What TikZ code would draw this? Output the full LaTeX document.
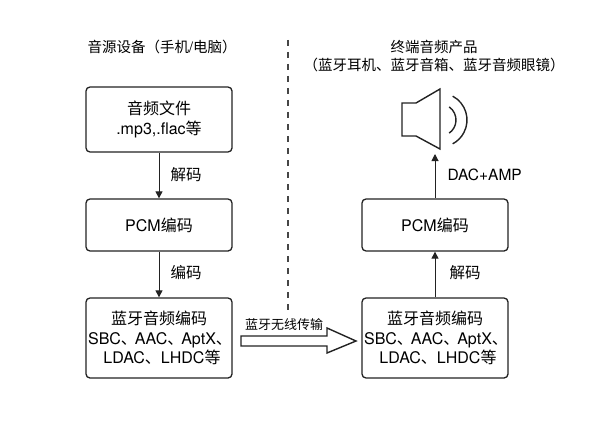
\documentclass[tikz,border=0pt]{standalone}
\usepackage{fontspec}
\setmainfont{TeX Gyre Heros}
\newfontfamily\cjk{Noto Sans CJK SC}
\usetikzlibrary{arrows.meta}
\newcommand{\zh}[1]{{\cjk #1}}
\newcommand{\dun}{\zh{、}\kern-2pt}
\definecolor{Line}{RGB}{34,34,34}
\definecolor{Rule}{RGB}{70,70,70}
\tikzstyle{Box}=[draw=Line,rounded corners=4pt,line width=1.3pt,
minimum width=146pt,inner sep=0pt,align=center,
font=\fontsize{16}{19.5}\selectfont]
\tikzstyle{Edge}=[draw=Line,line width=1pt,-{Triangle[length=7pt,width=7pt]}]
\tikzstyle{Label}=[anchor=west,font=\fontsize{15.5}{18}\selectfont]
\tikzstyle{Title}=[align=center,font=\fontsize{14.5}{18}\selectfont]
\tikzstyle{Hollow}=[draw=Line,line width=1.4pt,line join=miter]
\tikzstyle{Divider}=[draw=Rule,line width=1.2pt,dash pattern=on 6pt off 6pt]

\begin{document}
\begin{tikzpicture}[x=1pt,y=-1pt]
        \useasboundingbox(0,0)rectangle(607,425);
        \node[Title,anchor=west](srcT)at(84,47)
            {\zh{音源设备（手机}/\zh{电脑）}};
        \node[Title](sinkT)at(434,56)
            {\zh{终端音频产品}\\\zh{（蓝牙耳机、蓝牙音箱、蓝牙音频眼镜）}};
        \draw[Divider](288,40)--(288,310);
        % source side
        \node[Box,minimum height=65pt](file)at(159,119.5)
            {\zh{音频文件}\\.mp3,.flac\zh{等}};
        \node[Box,minimum height=52pt](pcm1)at(159,225){PCM\zh{编码}};
        \node[Box,minimum height=80pt](bt1)at(159,338)
            {\zh{蓝牙音频编码}\\SBC\dun AAC\dun AptX\dun\\\hspace*{6pt}LDAC\zh{、}LHDC\zh{等}};
        \draw[Edge](file)--(pcm1);
        \draw[Edge](pcm1)--(bt1);
        \node[Label](dec1)at(167,175){\zh{解码}};
        \node[Label](enc1)at(167,273){\zh{编码}};
        % sink side
        \node[Box,minimum height=52pt](pcm2)at(435,225){PCM\zh{编码}};
        \node[Box,minimum height=80pt](bt2)at(435,338)
            {\zh{蓝牙音频编码}\\SBC\dun AAC\dun AptX\dun\\\hspace*{6pt}LDAC\zh{、}LHDC\zh{等}};
        \coordinate(spk)at(435,154);
        \draw[Edge](bt2)--(pcm2);
        \draw[Edge](pcm2)--(spk);
        \node[Label](dec2)at(446,273){\zh{解码}};
        \node[Label](amp)at(444,175){DAC+AMP};
        % speaker
        \draw[Hollow](402,103)--(416,103)--(440,89)--(440,149)
            --(416,136)--(402,136)--cycle;
        \draw[Hollow](440,120)++(-55:16)arc[start angle=-55,end angle=55,radius=16];
        \draw[Hollow](440,120)++(-62:27)arc[start angle=-62,end angle=62,radius=27];
        % wireless link
        \coordinate(txA)at(241,341);
        \coordinate(txB)at(356,341);
        \draw[Hollow](txA)++(0,-5)--++(86,0)--++(0,-8)--(txB)
            --++(-29,12)--++(0,-7)--++(-86,0)--cycle;
        \node[font=\fontsize{13}{15}\selectfont](tx)at(284,325)
            {\zh{蓝牙无线传输}};
    \end{tikzpicture}
\end{document}
